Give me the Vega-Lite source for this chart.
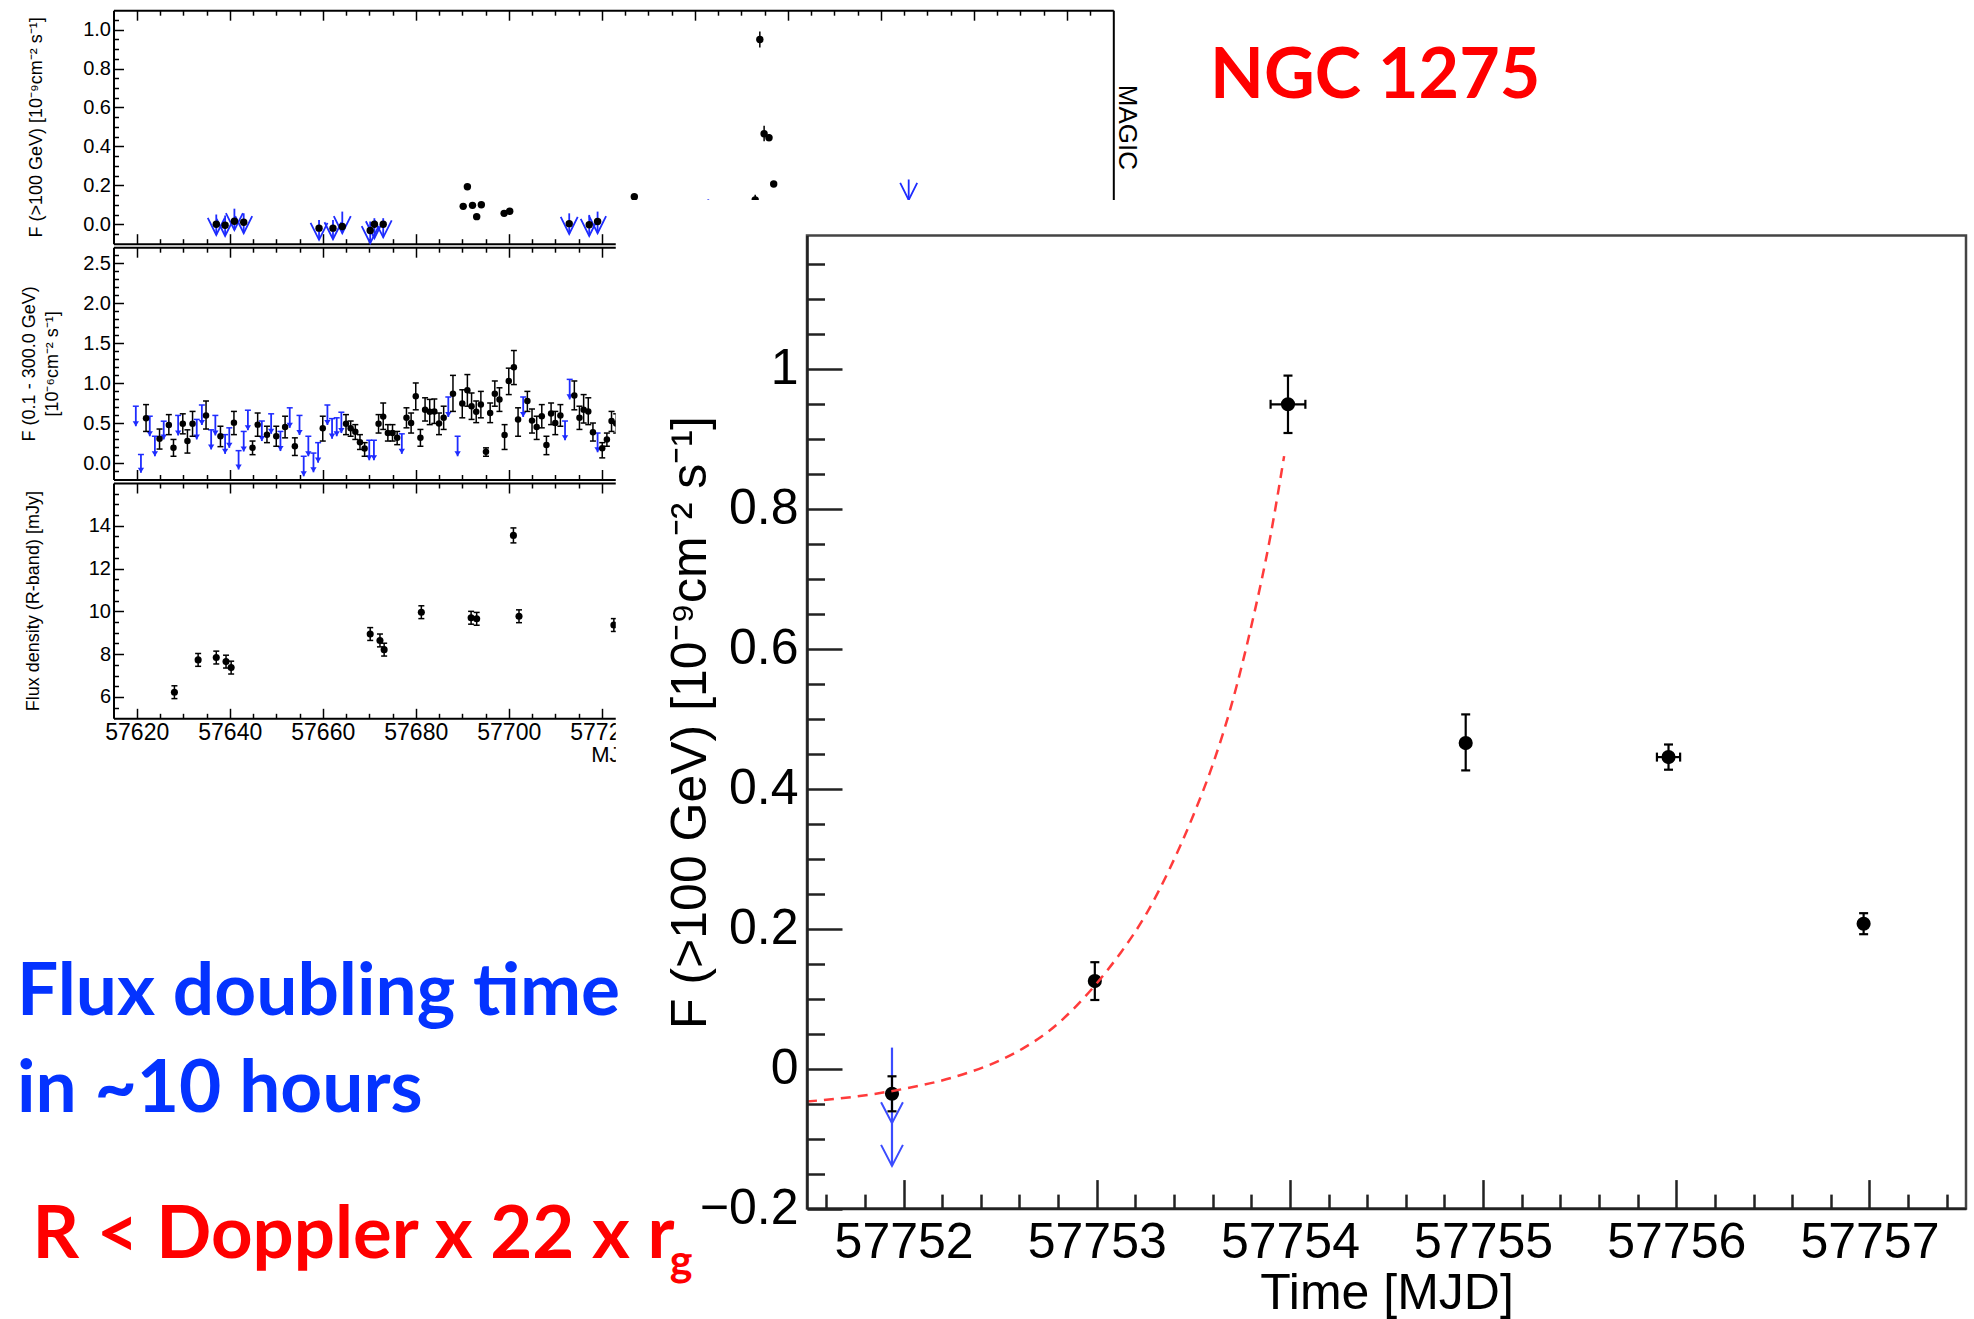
{
  "$schema": "https://vega.github.io/schema/vega-lite/v6.json",
  "width": 1974,
  "height": 1319,
  "padding": 0,
  "autosize": {"type": "none"},
  "background": "white",
  "config": {
    "view": {"stroke": null},
    "font": "Liberation Sans",
    "axis": {
      "labelFont": "Liberation Sans",
      "titleFont": "Liberation Sans",
      "labelColor": "#000",
      "titleColor": "#000",
      "titleFontWeight": "normal",
      "grid": false,
      "labelFlush": false,
      "labelOverlap": false,
      "labelBound": false,
      "domainColor": "#000",
      "tickColor": "#000",
      "tickWidth": 1.5,
      "domainWidth": 2
    }
  },
  "datasets": {
    "magicDet": [
      {"mjd": 57637.1, "flux": 0.0, "lo": -0.015, "hi": 0.015},
      {"mjd": 57639.0, "flux": -0.005, "lo": -0.02, "hi": 0.01},
      {"mjd": 57641.0, "flux": 0.015, "lo": 0.0, "hi": 0.03},
      {"mjd": 57643.0, "flux": 0.01, "lo": -0.005, "hi": 0.025},
      {"mjd": 57659.2, "flux": -0.02, "lo": -0.035, "hi": -0.005},
      {"mjd": 57662.2, "flux": -0.02, "lo": -0.035, "hi": -0.005},
      {"mjd": 57664.2, "flux": -0.012, "lo": -0.03, "hi": 0.006},
      {"mjd": 57670.2, "flux": -0.032, "lo": -0.047, "hi": -0.017},
      {"mjd": 57671.1, "flux": 0.0, "lo": -0.015, "hi": 0.015},
      {"mjd": 57673.0, "flux": 0.0, "lo": -0.015, "hi": 0.015},
      {"mjd": 57690.2, "flux": 0.092, "lo": 0.084, "hi": 0.1},
      {"mjd": 57691.1, "flux": 0.193, "lo": 0.185, "hi": 0.201},
      {"mjd": 57692.2, "flux": 0.097, "lo": 0.089, "hi": 0.105},
      {"mjd": 57693.1, "flux": 0.039, "lo": 0.031, "hi": 0.047},
      {"mjd": 57694.1, "flux": 0.1, "lo": 0.092, "hi": 0.108},
      {"mjd": 57699.0, "flux": 0.056, "lo": 0.048, "hi": 0.064},
      {"mjd": 57700.2, "flux": 0.067, "lo": 0.059, "hi": 0.075},
      {"mjd": 57713.0, "flux": 0.003, "lo": -0.012, "hi": 0.018},
      {"mjd": 57717.3, "flux": -0.003, "lo": -0.018, "hi": 0.012},
      {"mjd": 57719.1, "flux": 0.014, "lo": -0.001, "hi": 0.029},
      {"mjd": 57727.0, "flux": 0.141, "lo": 0.131, "hi": 0.151},
      {"mjd": 57751.94, "flux": -0.036, "lo": -0.061, "hi": -0.011},
      {"mjd": 57752.99, "flux": 0.125, "lo": 0.098, "hi": 0.152},
      {"mjd": 57753.99, "flux": 0.949, "lo": 0.908, "hi": 0.99, "xlo": 57753.9, "xhi": 57754.08},
      {"mjd": 57754.91, "flux": 0.465, "lo": 0.426, "hi": 0.506},
      {"mjd": 57755.96, "flux": 0.445, "lo": 0.427, "hi": 0.463, "xlo": 57755.9, "xhi": 57756.02},
      {"mjd": 57756.97, "flux": 0.207, "lo": 0.192, "hi": 0.222}
    ],
    "magicUL": [
      {"mjd": 57637.1, "ul": 0.05, "tip": -0.055},
      {"mjd": 57639.0, "ul": 0.045, "tip": -0.06},
      {"mjd": 57641.0, "ul": 0.08, "tip": -0.03},
      {"mjd": 57643.0, "ul": 0.056, "tip": -0.046},
      {"mjd": 57659.2, "ul": 0.022, "tip": -0.08},
      {"mjd": 57662.2, "ul": 0.022, "tip": -0.077},
      {"mjd": 57664.2, "ul": 0.065, "tip": -0.046},
      {"mjd": 57670.2, "ul": 0.014, "tip": -0.097},
      {"mjd": 57671.1, "ul": 0.031, "tip": -0.072},
      {"mjd": 57673.0, "ul": 0.031, "tip": -0.067},
      {"mjd": 57713.0, "ul": 0.056, "tip": -0.05},
      {"mjd": 57717.3, "ul": 0.048, "tip": -0.06},
      {"mjd": 57719.1, "ul": 0.065, "tip": -0.046},
      {"mjd": 57742.9, "ul": 0.128, "tip": 0.03},
      {"mjd": 57786.0, "ul": 0.23, "tip": 0.125}
    ],
    "insetUL": [
      {"mjd": 57751.94, "ul": 0.03, "tip": -0.139, "head": -0.078}
    ],
    "fermiDet": [
      {"mjd": 57622.0, "flux": 0.565, "lo": 0.40, "hi": 0.735},
      {"mjd": 57624.9, "flux": 0.31, "lo": 0.18, "hi": 0.43},
      {"mjd": 57626.9, "flux": 0.48, "lo": 0.36, "hi": 0.61},
      {"mjd": 57627.9, "flux": 0.195, "lo": 0.09, "hi": 0.30},
      {"mjd": 57629.9, "flux": 0.495, "lo": 0.37, "hi": 0.62},
      {"mjd": 57630.9, "flux": 0.28, "lo": 0.13, "hi": 0.42},
      {"mjd": 57632.0, "flux": 0.495, "lo": 0.34, "hi": 0.65},
      {"mjd": 57634.9, "flux": 0.60, "lo": 0.43, "hi": 0.78},
      {"mjd": 57638.0, "flux": 0.34, "lo": 0.21, "hi": 0.465},
      {"mjd": 57640.9, "flux": 0.51, "lo": 0.36, "hi": 0.65},
      {"mjd": 57644.9, "flux": 0.195, "lo": 0.11, "hi": 0.28},
      {"mjd": 57646.0, "flux": 0.485, "lo": 0.34, "hi": 0.63},
      {"mjd": 57648.0, "flux": 0.36, "lo": 0.26, "hi": 0.465},
      {"mjd": 57650.0, "flux": 0.34, "lo": 0.215, "hi": 0.465},
      {"mjd": 57651.9, "flux": 0.455, "lo": 0.32, "hi": 0.59},
      {"mjd": 57654.0, "flux": 0.215, "lo": 0.10, "hi": 0.32},
      {"mjd": 57660.0, "flux": 0.44, "lo": 0.28, "hi": 0.59},
      {"mjd": 57665.0, "flux": 0.495, "lo": 0.36, "hi": 0.61},
      {"mjd": 57666.0, "flux": 0.44, "lo": 0.34, "hi": 0.53},
      {"mjd": 57667.0, "flux": 0.395, "lo": 0.30, "hi": 0.485},
      {"mjd": 57668.0, "flux": 0.265, "lo": 0.175, "hi": 0.36},
      {"mjd": 57669.0, "flux": 0.187, "lo": 0.09, "hi": 0.26},
      {"mjd": 57672.0, "flux": 0.495, "lo": 0.38, "hi": 0.61},
      {"mjd": 57673.0, "flux": 0.585, "lo": 0.425, "hi": 0.755},
      {"mjd": 57674.0, "flux": 0.38, "lo": 0.28, "hi": 0.485},
      {"mjd": 57675.0, "flux": 0.38, "lo": 0.28, "hi": 0.485},
      {"mjd": 57676.0, "flux": 0.32, "lo": 0.235, "hi": 0.40},
      {"mjd": 57678.0, "flux": 0.57, "lo": 0.445, "hi": 0.695},
      {"mjd": 57679.0, "flux": 0.505, "lo": 0.38, "hi": 0.63},
      {"mjd": 57680.0, "flux": 0.84, "lo": 0.67, "hi": 1.005},
      {"mjd": 57681.0, "flux": 0.32, "lo": 0.215, "hi": 0.425},
      {"mjd": 57682.0, "flux": 0.67, "lo": 0.53, "hi": 0.82},
      {"mjd": 57683.0, "flux": 0.645, "lo": 0.485, "hi": 0.80},
      {"mjd": 57684.0, "flux": 0.65, "lo": 0.50, "hi": 0.805},
      {"mjd": 57685.0, "flux": 0.50, "lo": 0.36, "hi": 0.63},
      {"mjd": 57686.0, "flux": 0.57, "lo": 0.425, "hi": 0.715},
      {"mjd": 57688.0, "flux": 0.87, "lo": 0.65, "hi": 1.10},
      {"mjd": 57690.0, "flux": 0.75, "lo": 0.57, "hi": 0.92},
      {"mjd": 57691.1, "flux": 0.915, "lo": 0.715, "hi": 1.11},
      {"mjd": 57692.0, "flux": 0.715, "lo": 0.55, "hi": 0.88},
      {"mjd": 57693.0, "flux": 0.645, "lo": 0.51, "hi": 0.78},
      {"mjd": 57694.0, "flux": 0.735, "lo": 0.57, "hi": 0.90},
      {"mjd": 57695.1, "flux": 0.145, "lo": 0.09, "hi": 0.195},
      {"mjd": 57696.0, "flux": 0.63, "lo": 0.51, "hi": 0.755},
      {"mjd": 57697.0, "flux": 0.87, "lo": 0.715, "hi": 1.03},
      {"mjd": 57698.0, "flux": 0.80, "lo": 0.65, "hi": 0.945},
      {"mjd": 57699.1, "flux": 0.355, "lo": 0.175, "hi": 0.485},
      {"mjd": 57700.0, "flux": 1.03, "lo": 0.86, "hi": 1.19},
      {"mjd": 57701.1, "flux": 1.20, "lo": 0.985, "hi": 1.41},
      {"mjd": 57702.0, "flux": 0.55, "lo": 0.34, "hi": 0.695},
      {"mjd": 57704.0, "flux": 0.78, "lo": 0.65, "hi": 0.90},
      {"mjd": 57705.0, "flux": 0.535, "lo": 0.38, "hi": 0.68},
      {"mjd": 57706.0, "flux": 0.455, "lo": 0.30, "hi": 0.59},
      {"mjd": 57707.1, "flux": 0.59, "lo": 0.445, "hi": 0.735},
      {"mjd": 57708.1, "flux": 0.23, "lo": 0.11, "hi": 0.34},
      {"mjd": 57709.1, "flux": 0.625, "lo": 0.485, "hi": 0.755},
      {"mjd": 57710.0, "flux": 0.505, "lo": 0.36, "hi": 0.65},
      {"mjd": 57711.1, "flux": 0.60, "lo": 0.465, "hi": 0.735},
      {"mjd": 57714.1, "flux": 0.85, "lo": 0.67, "hi": 1.03},
      {"mjd": 57715.2, "flux": 0.57, "lo": 0.425, "hi": 0.715},
      {"mjd": 57716.1, "flux": 0.67, "lo": 0.505, "hi": 0.86},
      {"mjd": 57717.1, "flux": 0.65, "lo": 0.485, "hi": 0.82},
      {"mjd": 57718.1, "flux": 0.39, "lo": 0.28, "hi": 0.505},
      {"mjd": 57720.1, "flux": 0.19, "lo": 0.07, "hi": 0.26},
      {"mjd": 57721.1, "flux": 0.30, "lo": 0.215, "hi": 0.38},
      {"mjd": 57722.1, "flux": 0.53, "lo": 0.40, "hi": 0.65},
      {"mjd": 57723.1, "flux": 0.50, "lo": 0.38, "hi": 0.62}
    ],
    "fermiUL": [
      {"mjd": 57619.8, "ul": 0.715, "tip": 0.465},
      {"mjd": 57620.9, "ul": 0.112, "tip": -0.116},
      {"mjd": 57622.8, "ul": 0.59, "tip": 0.34},
      {"mjd": 57623.9, "ul": 0.34, "tip": 0.09},
      {"mjd": 57625.8, "ul": 0.528, "tip": 0.30},
      {"mjd": 57628.9, "ul": 0.60, "tip": 0.35},
      {"mjd": 57632.9, "ul": 0.55, "tip": 0.30},
      {"mjd": 57634.0, "ul": 0.73, "tip": 0.48},
      {"mjd": 57636.0, "ul": 0.42, "tip": 0.175},
      {"mjd": 57636.9, "ul": 0.60, "tip": 0.35},
      {"mjd": 57639.0, "ul": 0.36, "tip": 0.12},
      {"mjd": 57639.9, "ul": 0.445, "tip": 0.195},
      {"mjd": 57641.9, "ul": 0.16, "tip": -0.075},
      {"mjd": 57643.0, "ul": 0.40, "tip": 0.15},
      {"mjd": 57643.9, "ul": 0.665, "tip": 0.415},
      {"mjd": 57646.9, "ul": 0.53, "tip": 0.28},
      {"mjd": 57648.9, "ul": 0.62, "tip": 0.37},
      {"mjd": 57650.9, "ul": 0.40, "tip": 0.155},
      {"mjd": 57652.9, "ul": 0.695, "tip": 0.445},
      {"mjd": 57655.0, "ul": 0.60, "tip": 0.355},
      {"mjd": 57655.9, "ul": 0.09, "tip": -0.16},
      {"mjd": 57656.9, "ul": 0.34, "tip": 0.09},
      {"mjd": 57658.0, "ul": 0.13, "tip": -0.11},
      {"mjd": 57659.0, "ul": 0.26, "tip": 0.01},
      {"mjd": 57661.0, "ul": 0.73, "tip": 0.48},
      {"mjd": 57662.0, "ul": 0.56, "tip": 0.31},
      {"mjd": 57663.0, "ul": 0.57, "tip": 0.34},
      {"mjd": 57664.0, "ul": 0.64, "tip": 0.38},
      {"mjd": 57670.0, "ul": 0.29, "tip": 0.04},
      {"mjd": 57671.0, "ul": 0.29, "tip": 0.04},
      {"mjd": 57677.0, "ul": 0.37, "tip": 0.12},
      {"mjd": 57687.0, "ul": 0.83, "tip": 0.58},
      {"mjd": 57689.0, "ul": 0.34, "tip": 0.09},
      {"mjd": 57703.1, "ul": 0.83, "tip": 0.58},
      {"mjd": 57712.1, "ul": 0.53, "tip": 0.29},
      {"mjd": 57713.1, "ul": 1.05, "tip": 0.80},
      {"mjd": 57719.1, "ul": 0.38, "tip": 0.14}
    ],
    "optical": [
      {"mjd": 57628.1, "flux": 6.22, "lo": 5.92, "hi": 6.52},
      {"mjd": 57633.2, "flux": 7.73, "lo": 7.43, "hi": 8.03},
      {"mjd": 57637.1, "flux": 7.84, "lo": 7.54, "hi": 8.14},
      {"mjd": 57639.2, "flux": 7.65, "lo": 7.35, "hi": 7.95},
      {"mjd": 57640.3, "flux": 7.37, "lo": 7.07, "hi": 7.67},
      {"mjd": 57670.2, "flux": 8.94, "lo": 8.64, "hi": 9.24},
      {"mjd": 57672.3, "flux": 8.64, "lo": 8.34, "hi": 8.94},
      {"mjd": 57673.2, "flux": 8.21, "lo": 7.91, "hi": 8.51},
      {"mjd": 57681.2, "flux": 9.96, "lo": 9.66, "hi": 10.26},
      {"mjd": 57691.9, "flux": 9.70, "lo": 9.40, "hi": 10.0},
      {"mjd": 57693.1, "flux": 9.65, "lo": 9.35, "hi": 9.95},
      {"mjd": 57701.0, "flux": 13.55, "lo": 13.2, "hi": 13.9},
      {"mjd": 57702.2, "flux": 9.77, "lo": 9.47, "hi": 10.07},
      {"mjd": 57722.6, "flux": 9.36, "lo": 9.06, "hi": 9.66}
    ],
    "fit": [
      {"mjd": 57751.500, "flux": -0.047},
      {"mjd": 57751.750, "flux": -0.040},
      {"mjd": 57752.000, "flux": -0.029},
      {"mjd": 57752.250, "flux": -0.013},
      {"mjd": 57752.500, "flux": 0.012},
      {"mjd": 57752.625, "flux": 0.030},
      {"mjd": 57752.750, "flux": 0.053},
      {"mjd": 57752.875, "flux": 0.084},
      {"mjd": 57753.000, "flux": 0.122},
      {"mjd": 57753.125, "flux": 0.166},
      {"mjd": 57753.250, "flux": 0.218},
      {"mjd": 57753.375, "flux": 0.284},
      {"mjd": 57753.500, "flux": 0.362},
      {"mjd": 57753.600, "flux": 0.434},
      {"mjd": 57753.700, "flux": 0.522},
      {"mjd": 57753.800, "flux": 0.632},
      {"mjd": 57753.900, "flux": 0.762},
      {"mjd": 57753.970, "flux": 0.875}
    ]
  },
  "resolve": {
    "scale": {"x": "independent", "y": "independent"},
    "axis": {"x": "independent", "y": "independent"}
  },
  "layer": [
    {
      "resolve": {"axis": {"x": "independent", "y": "independent"}},
      "layer": [
        {
          "data": {"name": "magicUL"},
          "mark": {"type": "rule", "color": "#1e2cff", "strokeWidth": 1.8},
          "encoding": {
            "x": {"field": "mjd", "type": "quantitative",
              "scale": {"domain": [57615, 57830], "range": [113.5, 1113.3], "nice": false, "zero": false},
              "axis": {"orient": "top", "offset": -10.2, "values": [57620, 57640, 57660, 57680, 57700, 57720, 57740, 57760, 57780, 57800, 57820], "tickSize": -10, "labels": false, "domain": true, "title": null}},
            "y": {"field": "ul", "type": "quantitative",
              "scale": {"domain": [-0.1, 1.1], "range": [243.7, 10.2], "nice": false, "zero": false},
              "axis": {"orient": "right", "offset": -860.7, "ticks": false, "labels": false, "domain": true, "title": "MAGIC", "titleFontSize": 26, "titleAngle": 90, "titleX": 5, "titleBaseline": "alphabetic", "titleAlign": "center"}},
            "y2": {"field": "tip"}
          }
        },
        {
          "data": {"name": "magicUL"},
          "mark": {"type": "point", "shape": "M-0.5,-1L0,0L0.5,-1", "size": 1156, "filled": false, "color": "#1e2cff", "strokeWidth": 1.8, "opacity": 1},
          "encoding": {
            "x": {"field": "mjd", "type": "quantitative",
              "scale": {"domain": [57615, 57830], "range": [113.5, 1113.3], "nice": false, "zero": false},
              "axis": {"orient": "top", "offset": -10.2, "values": [57625, 57630, 57635, 57645, 57650, 57655, 57665, 57670, 57675, 57685, 57690, 57695, 57705, 57710, 57715, 57725, 57730, 57735, 57745, 57750, 57755, 57765, 57770, 57775, 57785, 57790, 57795, 57805, 57810, 57815, 57825], "tickSize": -5, "labels": false, "domain": false, "title": null}},
            "y": {"field": "tip", "type": "quantitative",
              "scale": {"domain": [-0.1, 1.1], "range": [243.7, 10.2], "nice": false, "zero": false},
              "axis": {"orient": "left", "offset": -113.5, "values": [-0.05, 0.05, 0.1, 0.15, 0.25, 0.3, 0.35, 0.45, 0.5, 0.55, 0.65, 0.7, 0.75, 0.85, 0.9, 0.95, 1.05], "tickSize": -5, "labels": false, "domain": false, "title": null}}
          }
        },
        {
          "data": {"name": "magicDet"},
          "mark": {"type": "rule", "color": "#000", "strokeWidth": 1.5},
          "encoding": {
            "x": {"field": "mjd", "type": "quantitative",
              "scale": {"domain": [57615, 57830], "range": [113.5, 1113.3], "nice": false, "zero": false},
              "axis": {"orient": "bottom", "offset": -1075.3, "values": [57625, 57630, 57635, 57645, 57650, 57655, 57665, 57670, 57675, 57685, 57690, 57695, 57705, 57710, 57715, 57725, 57730, 57735, 57745, 57750, 57755, 57765, 57770, 57775, 57785, 57790, 57795, 57805, 57810, 57815, 57825], "tickSize": -5, "labels": false, "domain": false, "title": null}},
            "y": {"field": "lo", "type": "quantitative",
              "scale": {"domain": [-0.1, 1.1], "range": [243.7, 10.2], "nice": false, "zero": false},
              "axis": {"orient": "left", "offset": -113.5, "values": [0, 0.2, 0.4, 0.6, 0.8, 1.0], "tickSize": -10, "labels": false, "domain": false, "title": null}},
            "y2": {"field": "hi"}
          }
        },
        {
          "data": {"name": "magicDet"},
          "mark": {"type": "circle", "size": 55, "color": "#000", "opacity": 1},
          "encoding": {
            "x": {"field": "mjd", "type": "quantitative",
              "scale": {"domain": [57615, 57830], "range": [113.5, 1113.3], "nice": false, "zero": false},
              "axis": {"orient": "bottom", "offset": -1075.3, "values": [57620, 57640, 57660, 57680, 57700, 57720, 57740, 57760, 57780, 57800, 57820], "tickSize": -10, "labels": false, "domain": true, "title": null}},
            "y": {"field": "flux", "type": "quantitative",
              "scale": {"domain": [-0.1, 1.1], "range": [243.7, 10.2], "nice": false, "zero": false},
              "axis": {"orient": "left", "offset": -113.5, "values": [0, 0.2, 0.4, 0.6, 0.8, 1.0], "format": ".1f", "ticks": false, "labelFontSize": 20, "labelPadding": 3, "domain": true, "title": "F (>100 GeV) [10⁻⁹cm⁻² s⁻¹]", "titleFontSize": 18, "titleAngle": -90, "titleX": -72, "titleBaseline": "alphabetic", "titleAlign": "center"}}
          }
        }
      ]
    },
    {
      "resolve": {"axis": {"x": "independent", "y": "independent"}},
      "layer": [
        {
          "data": {"name": "fermiUL"},
          "mark": {"type": "rule", "color": "#1e2cff", "strokeWidth": 1.8},
          "encoding": {
            "x": {"field": "mjd", "type": "quantitative",
              "scale": {"domain": [57615, 57830], "range": [113.5, 1113.3], "nice": false, "zero": false},
              "axis": {"orient": "top", "offset": -247.2, "values": [57620, 57640, 57660, 57680, 57700, 57720, 57740, 57760, 57780, 57800, 57820], "tickSize": -10, "labels": false, "domain": true, "title": null}},
            "y": {"field": "ul", "type": "quantitative",
              "scale": {"domain": [-0.2, 2.7], "range": [479.5, 247.2], "nice": false, "zero": false}, "axis": null},
            "y2": {"field": "tip"}
          }
        },
        {
          "data": {"name": "fermiUL"},
          "mark": {"type": "point", "shape": "M-1,-1.6L0,0L1,-1.6Z", "size": 40, "filled": true, "color": "#1e2cff", "opacity": 1},
          "encoding": {
            "x": {"field": "mjd", "type": "quantitative",
              "scale": {"domain": [57615, 57830], "range": [113.5, 1113.3], "nice": false, "zero": false},
              "axis": {"orient": "top", "offset": -247.2, "values": [57625, 57630, 57635, 57645, 57650, 57655, 57665, 57670, 57675, 57685, 57690, 57695, 57705, 57710, 57715, 57725, 57730, 57735, 57745, 57750, 57755, 57765, 57770, 57775, 57785, 57790, 57795, 57805, 57810, 57815, 57825], "tickSize": -5, "labels": false, "domain": false, "title": null}},
            "y": {"field": "tip", "type": "quantitative",
              "scale": {"domain": [-0.2, 2.7], "range": [479.5, 247.2], "nice": false, "zero": false}, "axis": null}
          }
        },
        {
          "data": {"name": "fermiUL"},
          "mark": {"type": "point", "shape": "M-1,0L1,0", "size": 36, "filled": false, "color": "#1e2cff", "strokeWidth": 1.5, "opacity": 1},
          "encoding": {
            "x": {"field": "mjd", "type": "quantitative",
              "scale": {"domain": [57615, 57830], "range": [113.5, 1113.3], "nice": false, "zero": false}, "axis": null},
            "y": {"field": "ul", "type": "quantitative",
              "scale": {"domain": [-0.2, 2.7], "range": [479.5, 247.2], "nice": false, "zero": false}, "axis": null}
          }
        },
        {
          "data": {"name": "fermiDet"},
          "mark": {"type": "rule", "color": "#000", "strokeWidth": 1.5},
          "encoding": {
            "x": {"field": "mjd", "type": "quantitative",
              "scale": {"domain": [57615, 57830], "range": [113.5, 1113.3], "nice": false, "zero": false},
              "axis": {"orient": "bottom", "offset": -839.5, "values": [57625, 57630, 57635, 57645, 57650, 57655, 57665, 57670, 57675, 57685, 57690, 57695, 57705, 57710, 57715, 57725, 57730, 57735, 57745, 57750, 57755, 57765, 57770, 57775, 57785, 57790, 57795, 57805, 57810, 57815, 57825], "tickSize": -5, "labels": false, "domain": false, "title": null}},
            "y": {"field": "lo", "type": "quantitative",
              "scale": {"domain": [-0.2, 2.7], "range": [479.5, 247.2], "nice": false, "zero": false},
              "axis": {"orient": "left", "offset": -113.5, "values": [-0.1, 0.1, 0.2, 0.3, 0.4, 0.6, 0.7, 0.8, 0.9, 1.1, 1.2, 1.3, 1.4, 1.6, 1.7, 1.8, 1.9, 2.1, 2.2, 2.3, 2.4, 2.6], "tickSize": -5, "labels": false, "domain": false, "title": null}},
            "y2": {"field": "hi"}
          }
        },
        {
          "data": {"name": "fermiDet"},
          "mark": {"type": "point", "shape": "M-1,0L1,0", "size": 36, "filled": false, "color": "#000", "strokeWidth": 1.5, "opacity": 1},
          "encoding": {
            "x": {"field": "mjd", "type": "quantitative",
              "scale": {"domain": [57615, 57830], "range": [113.5, 1113.3], "nice": false, "zero": false},
              "axis": {"orient": "bottom", "offset": -839.5, "values": [57620, 57640, 57660, 57680, 57700, 57720, 57740, 57760, 57780, 57800, 57820], "tickSize": -10, "labels": false, "domain": true, "title": null}},
            "y": {"field": "lo", "type": "quantitative",
              "scale": {"domain": [-0.2, 2.7], "range": [479.5, 247.2], "nice": false, "zero": false},
              "axis": {"orient": "left", "offset": -113.5, "values": [0, 0.5, 1.0, 1.5, 2.0, 2.5], "tickSize": -10, "labels": false, "domain": false, "title": null}}
          }
        },
        {
          "data": {"name": "fermiDet"},
          "mark": {"type": "point", "shape": "M-1,0L1,0", "size": 36, "filled": false, "color": "#000", "strokeWidth": 1.5, "opacity": 1},
          "encoding": {
            "x": {"field": "mjd", "type": "quantitative",
              "scale": {"domain": [57615, 57830], "range": [113.5, 1113.3], "nice": false, "zero": false}, "axis": null},
            "y": {"field": "hi", "type": "quantitative",
              "scale": {"domain": [-0.2, 2.7], "range": [479.5, 247.2], "nice": false, "zero": false}, "axis": null}
          }
        },
        {
          "data": {"name": "fermiDet"},
          "mark": {"type": "circle", "size": 42, "color": "#000", "opacity": 1},
          "encoding": {
            "x": {"field": "mjd", "type": "quantitative",
              "scale": {"domain": [57615, 57830], "range": [113.5, 1113.3], "nice": false, "zero": false}, "axis": null},
            "y": {"field": "flux", "type": "quantitative",
              "scale": {"domain": [-0.2, 2.7], "range": [479.5, 247.2], "nice": false, "zero": false},
              "axis": {"orient": "left", "offset": -113.5, "values": [0, 0.5, 1.0, 1.5, 2.0, 2.5], "format": ".1f", "ticks": false, "labelFontSize": 20, "labelPadding": 3, "domain": true, "title": ["F (0.1 - 300.0 GeV)", "[10⁻⁶cm⁻² s⁻¹]"], "titleFontSize": 18, "titleLineHeight": 23, "titleAngle": -90, "titleX": -79, "titleBaseline": "alphabetic", "titleAlign": "center"}}
          }
        }
      ]
    },
    {
      "resolve": {"axis": {"x": "independent", "y": "independent"}},
      "layer": [
        {
          "data": {"name": "optical"},
          "mark": {"type": "rule", "color": "#000", "strokeWidth": 1.5},
          "encoding": {
            "x": {"field": "mjd", "type": "quantitative",
              "scale": {"domain": [57615, 57830], "range": [113.5, 1113.3], "nice": false, "zero": false},
              "axis": {"orient": "bottom", "offset": -600.7, "values": [57625, 57630, 57635, 57645, 57650, 57655, 57665, 57670, 57675, 57685, 57690, 57695, 57705, 57710, 57715, 57725, 57730, 57735, 57745, 57750, 57755, 57765, 57770, 57775, 57785, 57790, 57795, 57805, 57810, 57815, 57825], "tickSize": -5, "labels": false, "domain": false, "title": null}},
            "y": {"field": "lo", "type": "quantitative",
              "scale": {"domain": [5, 16], "range": [718.3, 483], "nice": false, "zero": false},
              "axis": {"orient": "left", "offset": -113.5, "values": [5.5, 6.5, 7, 7.5, 8.5, 9, 9.5, 10.5, 11, 11.5, 12.5, 13, 13.5, 14.5, 15, 15.5], "tickSize": -5, "labels": false, "domain": false, "title": null}},
            "y2": {"field": "hi"}
          }
        },
        {
          "data": {"name": "optical"},
          "mark": {"type": "point", "shape": "M-1,0L1,0", "size": 36, "filled": false, "color": "#000", "strokeWidth": 1.5, "opacity": 1},
          "encoding": {
            "x": {"field": "mjd", "type": "quantitative",
              "scale": {"domain": [57615, 57830], "range": [113.5, 1113.3], "nice": false, "zero": false},
              "axis": {"orient": "top", "offset": -483, "values": [57620, 57640, 57660, 57680, 57700, 57720, 57740, 57760, 57780, 57800, 57820], "tickSize": -10, "labels": false, "domain": true, "title": null}},
            "y": {"field": "lo", "type": "quantitative",
              "scale": {"domain": [5, 16], "range": [718.3, 483], "nice": false, "zero": false},
              "axis": {"orient": "left", "offset": -113.5, "values": [6, 8, 10, 12, 14], "tickSize": -10, "labels": false, "domain": false, "title": null}}
          }
        },
        {
          "data": {"name": "optical"},
          "mark": {"type": "point", "shape": "M-1,0L1,0", "size": 36, "filled": false, "color": "#000", "strokeWidth": 1.5, "opacity": 1},
          "encoding": {
            "x": {"field": "mjd", "type": "quantitative",
              "scale": {"domain": [57615, 57830], "range": [113.5, 1113.3], "nice": false, "zero": false},
              "axis": {"orient": "top", "offset": -483, "values": [57625, 57630, 57635, 57645, 57650, 57655, 57665, 57670, 57675, 57685, 57690, 57695, 57705, 57710, 57715, 57725, 57730, 57735, 57745, 57750, 57755, 57765, 57770, 57775, 57785, 57790, 57795, 57805, 57810, 57815, 57825], "tickSize": -5, "labels": false, "domain": false, "title": null}},
            "y": {"field": "hi", "type": "quantitative",
              "scale": {"domain": [5, 16], "range": [718.3, 483], "nice": false, "zero": false}, "axis": null}
          }
        },
        {
          "data": {"name": "optical"},
          "mark": {"type": "circle", "size": 50, "color": "#000", "opacity": 1},
          "encoding": {
            "x": {"field": "mjd", "type": "quantitative",
              "scale": {"domain": [57615, 57830], "range": [113.5, 1113.3], "nice": false, "zero": false},
              "axis": {"orient": "bottom", "offset": -600.7, "values": [57620, 57640, 57660, 57680, 57700, 57720, 57740, 57760, 57780, 57800, 57820], "format": "d", "tickSize": -10, "labelFontSize": 23, "labelPadding": 13.5, "domain": true, "title": "MJD", "titleFontSize": 22, "titleY": 43, "titleBaseline": "alphabetic"}},
            "y": {"field": "flux", "type": "quantitative",
              "scale": {"domain": [5, 16], "range": [718.3, 483], "nice": false, "zero": false},
              "axis": {"orient": "left", "offset": -113.5, "values": [6, 8, 10, 12, 14], "format": "d", "ticks": false, "labelFontSize": 20, "labelPadding": 3, "domain": true, "title": "Flux density (R-band) [mJy]", "titleFontSize": 18, "titleAngle": -90, "titleX": -75, "titleBaseline": "alphabetic", "titleAlign": "center"}}
          }
        }
      ]
    },
    {
      "resolve": {"axis": {"x": "independent", "y": "independent"}},
      "layer": [
        {
          "data": {"values": [{}]},
          "mark": {"type": "rect", "color": "white", "opacity": 1},
          "encoding": {
            "x": {"datum": 57750.51, "type": "quantitative",
              "scale": {"domain": [57751.5, 57757.5], "range": [807, 1966], "nice": false, "zero": false}, "axis": null},
            "x2": {"datum": 57757.6},
            "y": {"datum": -0.36, "type": "quantitative",
              "scale": {"domain": [-0.2, 1.19], "range": [1208.6, 235.6], "nice": false, "zero": false}, "axis": null},
            "y2": {"datum": 1.241}
          }
        },
        {
          "data": {"name": "insetUL"},
          "mark": {"type": "rule", "color": "#3b4cff", "strokeWidth": 2.2},
          "encoding": {
            "x": {"field": "mjd", "type": "quantitative",
              "scale": {"domain": [57751.5, 57757.5], "range": [807, 1966], "nice": false, "zero": false}, "axis": null},
            "y": {"field": "ul", "type": "quantitative",
              "scale": {"domain": [-0.2, 1.19], "range": [1208.6, 235.6], "nice": false, "zero": false}, "axis": null},
            "y2": {"field": "tip"}
          }
        },
        {
          "data": {"name": "insetUL"},
          "transform": [{"fold": ["tip", "head"], "as": ["kind", "at"]}],
          "mark": {"type": "point", "shape": "M-0.52,-1L0,0L0.52,-1", "size": 1764, "filled": false, "color": "#3b4cff", "strokeWidth": 2, "opacity": 1},
          "encoding": {
            "x": {"field": "mjd", "type": "quantitative",
              "scale": {"domain": [57751.5, 57757.5], "range": [807, 1966], "nice": false, "zero": false}, "axis": null},
            "y": {"field": "at", "type": "quantitative",
              "scale": {"domain": [-0.2, 1.19], "range": [1208.6, 235.6], "nice": false, "zero": false}, "axis": null}
          }
        },
        {
          "data": {"name": "magicDet"},
          "transform": [{"filter": "datum.mjd > 57751"}],
          "mark": {"type": "rule", "color": "#000", "strokeWidth": 2.2},
          "encoding": {
            "x": {"field": "mjd", "type": "quantitative",
              "scale": {"domain": [57751.5, 57757.5], "range": [807, 1966], "nice": false, "zero": false},
              "axis": {"orient": "bottom", "offset": -110.4, "values": [57752, 57753, 57754, 57755, 57756, 57757], "tickSize": -29, "tickWidth": 2.5, "tickColor": "#222", "labels": false, "domain": false, "title": null, "zindex": 1}},
            "y": {"field": "lo", "type": "quantitative",
              "scale": {"domain": [-0.2, 1.19], "range": [1208.6, 235.6], "nice": false, "zero": false},
              "axis": {"orient": "left", "offset": -807, "values": [-0.2, 0, 0.2, 0.4, 0.6, 0.8, 1], "tickSize": -35, "tickWidth": 2.5, "tickColor": "#222", "labels": false, "domain": false, "title": null, "zindex": 1}},
            "y2": {"field": "hi"}
          }
        },
        {
          "data": {"name": "magicDet"},
          "transform": [{"filter": "datum.mjd > 57751"}],
          "mark": {"type": "point", "shape": "M-1,0L1,0", "size": 81, "filled": false, "color": "#000", "strokeWidth": 2.2, "opacity": 1},
          "encoding": {
            "x": {"field": "mjd", "type": "quantitative",
              "scale": {"domain": [57751.5, 57757.5], "range": [807, 1966], "nice": false, "zero": false},
              "axis": {"orient": "bottom", "offset": -110.4, "values": [57751.6, 57751.8, 57752.2, 57752.4, 57752.6, 57752.8, 57753.2, 57753.4, 57753.6, 57753.8, 57754.2, 57754.4, 57754.6, 57754.8, 57755.2, 57755.4, 57755.6, 57755.8, 57756.2, 57756.4, 57756.6, 57756.8, 57757.2, 57757.4], "tickSize": -14.5, "tickWidth": 2.5, "tickColor": "#222", "labels": false, "domain": false, "title": null, "zindex": 1}},
            "y": {"field": "lo", "type": "quantitative",
              "scale": {"domain": [-0.2, 1.19], "range": [1208.6, 235.6], "nice": false, "zero": false},
              "axis": {"orient": "left", "offset": -807, "values": [-0.15, -0.1, -0.05, 0.05, 0.1, 0.15, 0.25, 0.3, 0.35, 0.45, 0.5, 0.55, 0.65, 0.7, 0.75, 0.85, 0.9, 0.95, 1.05, 1.1, 1.15], "tickSize": -17.5, "tickWidth": 2.5, "tickColor": "#222", "labels": false, "domain": false, "title": null, "zindex": 1}}
          }
        },
        {
          "data": {"name": "magicDet"},
          "transform": [{"filter": "datum.mjd > 57751"}],
          "mark": {"type": "point", "shape": "M-1,0L1,0", "size": 81, "filled": false, "color": "#000", "strokeWidth": 2.2, "opacity": 1},
          "encoding": {
            "x": {"field": "mjd", "type": "quantitative",
              "scale": {"domain": [57751.5, 57757.5], "range": [807, 1966], "nice": false, "zero": false}, "axis": null},
            "y": {"field": "hi", "type": "quantitative",
              "scale": {"domain": [-0.2, 1.19], "range": [1208.6, 235.6], "nice": false, "zero": false}, "axis": null}
          }
        },
        {
          "data": {"name": "magicDet"},
          "transform": [{"filter": "datum.mjd > 57751 && isValid(datum.xlo)"}],
          "mark": {"type": "rule", "color": "#000", "strokeWidth": 2.2},
          "encoding": {
            "x": {"field": "xlo", "type": "quantitative",
              "scale": {"domain": [57751.5, 57757.5], "range": [807, 1966], "nice": false, "zero": false}, "axis": null},
            "x2": {"field": "xhi"},
            "y": {"field": "flux", "type": "quantitative",
              "scale": {"domain": [-0.2, 1.19], "range": [1208.6, 235.6], "nice": false, "zero": false}, "axis": null}
          }
        },
        {
          "data": {"name": "magicDet"},
          "transform": [{"filter": "datum.mjd > 57751 && isValid(datum.xlo)"}, {"fold": ["xlo", "xhi"], "as": ["side", "xend"]}],
          "mark": {"type": "point", "shape": "M0,-1L0,1", "size": 81, "filled": false, "color": "#000", "strokeWidth": 2.2, "opacity": 1},
          "encoding": {
            "x": {"field": "xend", "type": "quantitative",
              "scale": {"domain": [57751.5, 57757.5], "range": [807, 1966], "nice": false, "zero": false}, "axis": null},
            "y": {"field": "flux", "type": "quantitative",
              "scale": {"domain": [-0.2, 1.19], "range": [1208.6, 235.6], "nice": false, "zero": false}, "axis": null}
          }
        },
        {
          "data": {"name": "magicDet"},
          "transform": [{"filter": "datum.mjd > 57751"}],
          "mark": {"type": "circle", "size": 200, "color": "#000", "opacity": 1},
          "encoding": {
            "x": {"field": "mjd", "type": "quantitative",
              "scale": {"domain": [57751.5, 57757.5], "range": [807, 1966], "nice": false, "zero": false},
              "axis": {"orient": "bottom", "offset": -110.4, "values": [57752, 57753, 57754, 57755, 57756, 57757], "format": "d", "ticks": false, "labelFontSize": 50, "labelPadding": 9, "domain": true, "domainWidth": 2.5, "domainColor": "#222", "title": "Time [MJD]", "titleFontSize": 50, "titleY": 100, "titleBaseline": "alphabetic", "zindex": 1}},
            "y": {"field": "flux", "type": "quantitative",
              "scale": {"domain": [-0.2, 1.19], "range": [1208.6, 235.6], "nice": false, "zero": false},
              "axis": {"orient": "left", "offset": -807, "values": [-0.2, 0, 0.2, 0.4, 0.6, 0.8, 1], "format": "~g", "ticks": false, "labelFontSize": 50, "labelPadding": 9, "domain": true, "domainWidth": 2.5, "domainColor": "#222", "title": "F (>100 GeV) [10⁻⁹cm⁻² s⁻¹]", "titleFontSize": 50, "titleAngle": -90, "titleX": -102, "titleBaseline": "alphabetic", "titleAlign": "center", "zindex": 1}}
          }
        },
        {
          "data": {"name": "fit"},
          "mark": {"type": "line", "color": "#ff3b3b", "strokeWidth": 2.5, "strokeDash": [10, 7], "interpolate": "monotone"},
          "encoding": {
            "x": {"field": "mjd", "type": "quantitative",
              "scale": {"domain": [57751.5, 57757.5], "range": [807, 1966], "nice": false, "zero": false}, "axis": null},
            "y": {"field": "flux", "type": "quantitative",
              "scale": {"domain": [-0.2, 1.19], "range": [1208.6, 235.6], "nice": false, "zero": false}, "axis": null}
          }
        },
        {
          "data": {"values": [{}]},
          "mark": {"type": "rect", "filled": false, "color": "#444", "strokeWidth": 2.5},
          "encoding": {
            "x": {"datum": 57751.5, "type": "quantitative",
              "scale": {"domain": [57751.5, 57757.5], "range": [807, 1966], "nice": false, "zero": false}, "axis": null},
            "x2": {"datum": 57757.5},
            "y": {"datum": -0.2, "type": "quantitative",
              "scale": {"domain": [-0.2, 1.19], "range": [1208.6, 235.6], "nice": false, "zero": false}, "axis": null},
            "y2": {"datum": 1.19}
          }
        },
        {
          "data": {"values": [{"label": "NGC 1275"}]},
          "mark": {"type": "text", "font": "Lato", "fontWeight": "bold", "fontSize": 70, "color": "#ff0000", "align": "left", "baseline": "alphabetic"},
          "encoding": {
            "text": {"field": "label"},
            "x": {"datum": 57753.586, "type": "quantitative",
              "scale": {"domain": [57751.5, 57757.5], "range": [807, 1966], "nice": false, "zero": false}, "axis": null},
            "y": {"datum": 1.386, "type": "quantitative",
              "scale": {"domain": [-0.2, 1.19], "range": [1208.6, 235.6], "nice": false, "zero": false}, "axis": null}
          }
        },
        {
          "data": {"values": [{"label": "Flux doubling time"}]},
          "mark": {"type": "text", "font": "Lato", "fontWeight": "bold", "fontSize": 73, "color": "#0433ff", "align": "left", "baseline": "alphabetic"},
          "encoding": {
            "text": {"field": "label"},
            "x": {"datum": 57747.41, "type": "quantitative",
              "scale": {"domain": [57751.5, 57757.5], "range": [807, 1966], "nice": false, "zero": false}, "axis": null},
            "y": {"datum": 0.0766, "type": "quantitative",
              "scale": {"domain": [-0.2, 1.19], "range": [1208.6, 235.6], "nice": false, "zero": false}, "axis": null}
          }
        },
        {
          "data": {"values": [{"label": "in ~10 hours"}]},
          "mark": {"type": "text", "font": "Lato", "fontWeight": "bold", "fontSize": 73, "color": "#0433ff", "align": "left", "baseline": "alphabetic"},
          "encoding": {
            "text": {"field": "label"},
            "x": {"datum": 57747.41, "type": "quantitative",
              "scale": {"domain": [57751.5, 57757.5], "range": [807, 1966], "nice": false, "zero": false}, "axis": null},
            "y": {"datum": -0.0616, "type": "quantitative",
              "scale": {"domain": [-0.2, 1.19], "range": [1208.6, 235.6], "nice": false, "zero": false}, "axis": null}
          }
        },
        {
          "data": {"values": [{"label": "R < Doppler x 22 x r"}]},
          "mark": {"type": "text", "font": "Lato", "fontWeight": "bold", "fontSize": 72.5, "color": "#ff0000", "align": "left", "baseline": "alphabetic"},
          "encoding": {
            "text": {"field": "label"},
            "x": {"datum": 57747.49, "type": "quantitative",
              "scale": {"domain": [57751.5, 57757.5], "range": [807, 1966], "nice": false, "zero": false}, "axis": null},
            "y": {"datum": -0.271, "type": "quantitative",
              "scale": {"domain": [-0.2, 1.19], "range": [1208.6, 235.6], "nice": false, "zero": false}, "axis": null}
          }
        },
        {
          "data": {"values": [{"label": "g"}]},
          "mark": {"type": "text", "font": "Lato", "fontWeight": "bold", "fontSize": 43, "color": "#ff0000", "align": "left", "baseline": "alphabetic"},
          "encoding": {
            "text": {"field": "label"},
            "x": {"datum": 57750.79, "type": "quantitative",
              "scale": {"domain": [57751.5, 57757.5], "range": [807, 1966], "nice": false, "zero": false}, "axis": null},
            "y": {"datum": -0.2963, "type": "quantitative",
              "scale": {"domain": [-0.2, 1.19], "range": [1208.6, 235.6], "nice": false, "zero": false}, "axis": null}
          }
        }
      ]
    }
  ]
}
